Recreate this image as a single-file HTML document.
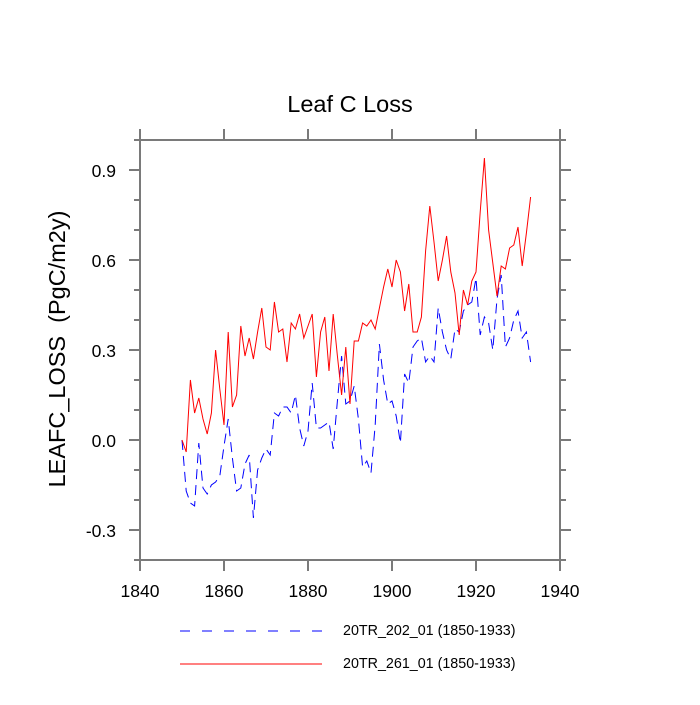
<!DOCTYPE html>
<html><head><meta charset="utf-8"><style>
body{margin:0;background:#fff}
svg text{font-family:"Liberation Sans",sans-serif;fill:#000}
</style></head><body>
<svg id="chart" width="700" height="700" xmlns="http://www.w3.org/2000/svg">
<text x="350" y="112" font-size="23.5" text-anchor="middle">Leaf C Loss</text>
<text transform="translate(65,349) rotate(-90)" font-size="23.5" text-anchor="middle" style="white-space:pre">LEAFC_LOSS  (PgC/m2y)</text>
<g id="axes"></g>
<g id="series"></g>
<g>
<line x1="180" y1="631" x2="322" y2="631" stroke="#0000ff" stroke-width="1" stroke-dasharray="10,12"/>
<text x="343" y="635" font-size="14.3">20TR_202_01 (1850-1933)</text>
<line x1="180" y1="664" x2="322" y2="664" stroke="#ff0000" stroke-width="1"/>
<text x="343" y="668" font-size="14.3">20TR_261_01 (1850-1933)</text>
</g>
</svg>
<script>
const startYear = 1850;
const redValues = [0.0,-0.04,0.20,0.09,0.14,0.07,0.02,0.09,0.30,0.17,0.05,0.36,0.11,0.15,0.38,0.28,0.34,0.27,0.36,0.44,0.31,0.30,0.46,0.36,0.37,0.26,0.39,0.37,0.42,0.34,0.38,0.42,0.21,0.36,0.41,0.23,0.42,0.28,0.15,0.31,0.12,0.33,0.33,0.39,0.38,0.40,0.37,0.44,0.51,0.57,0.51,0.60,0.56,0.43,0.52,0.36,0.36,0.41,0.63,0.78,0.66,0.53,0.60,0.68,0.56,0.49,0.35,0.50,0.45,0.53,0.56,0.76,0.94,0.70,0.59,0.48,0.58,0.57,0.64,0.65,0.71,0.58,0.69,0.81];
const blueValues = [0.0,-0.17,-0.21,-0.22,-0.01,-0.16,-0.18,-0.15,-0.14,-0.12,-0.02,0.07,-0.06,-0.17,-0.16,-0.08,-0.05,-0.26,-0.10,-0.06,-0.03,-0.05,0.09,0.08,0.11,0.11,0.09,0.15,0.04,-0.02,0.03,0.19,0.04,0.04,0.05,0.06,-0.03,0.13,0.28,0.12,0.13,0.18,0.07,-0.09,-0.07,-0.11,0.05,0.32,0.20,0.12,0.13,0.08,-0.01,0.22,0.19,0.31,0.33,0.34,0.26,0.28,0.26,0.44,0.36,0.30,0.27,0.37,0.36,0.43,0.45,0.46,0.54,0.35,0.41,0.39,0.30,0.47,0.55,0.31,0.34,0.40,0.43,0.34,0.36,0.26];
const xTicks = [1840,1860,1880,1900,1920,1940];
const yTicks = [-0.3,0.0,0.3,0.6,0.9];
const yTickLabels = ["-0.3","0.0","0.3","0.6","0.9"];

const L=140,R=560,T=140,B=560;
const xMin=1840,xMax=1940,yMin=-0.4,yMax=1.0;
const sx=v=>L+(v-xMin)/(xMax-xMin)*(R-L);
const sy=v=>B-(v-yMin)/(yMax-yMin)*(B-T);
const NS="http://www.w3.org/2000/svg";
const axes=document.getElementById('axes');
const series=document.getElementById('series');
function mk(tag,attrs,parent){const e=document.createElementNS(NS,tag);for(const k in attrs)e.setAttribute(k,attrs[k]);parent.appendChild(e);return e;}

const tc='#7a7a7a';
const frame=mk('rect',{x:L,y:T,width:R-L,height:B-T,fill:'none',stroke:tc,'stroke-width':2},axes);


xTicks.forEach(v=>{
  const x=sx(v);
  const t1=mk('line',{x1:x,y1:B,x2:x,y2:B+11,stroke:tc,'stroke-width':2},axes);
  
  
  const t2=mk('line',{x1:x,y1:T,x2:x,y2:T-11,stroke:tc,'stroke-width':2},axes);
  
  
  const t=mk('text',{x:x,y:597,'font-size':17.5,'text-anchor':'middle'},axes);t.textContent=String(v);
  
  
});
for(let i=-4;i<=10;i++){
  const v=i/10;const major=(i%3===0);const len=major?11:6;const y=sy(v);
  const t1=mk('line',{x1:L,y1:y,x2:L-len,y2:y,stroke:tc,'stroke-width':2},axes);
  
  
  const t2=mk('line',{x1:R,y1:y,x2:R+len,y2:y,stroke:tc,'stroke-width':2},axes);
  
  
}
yTicks.forEach((v,i)=>{
  const t=mk('text',{x:116,y:sy(v)+7,'font-size':17.5,'text-anchor':'end'},axes);t.textContent=yTickLabels[i];
  
  
});
function pts(vals){return vals.map((v,i)=>sx(startYear+i).toFixed(2)+','+sy(v).toFixed(2)).join(' ');}
const blue=mk('polyline',{points:pts(blueValues),fill:'none',stroke:'#0000ff','stroke-width':1,'stroke-dasharray':'10,6'},series);


const red=mk('polyline',{points:pts(redValues),fill:'none',stroke:'#ff0000','stroke-width':1},series);


</script>
</body></html>
